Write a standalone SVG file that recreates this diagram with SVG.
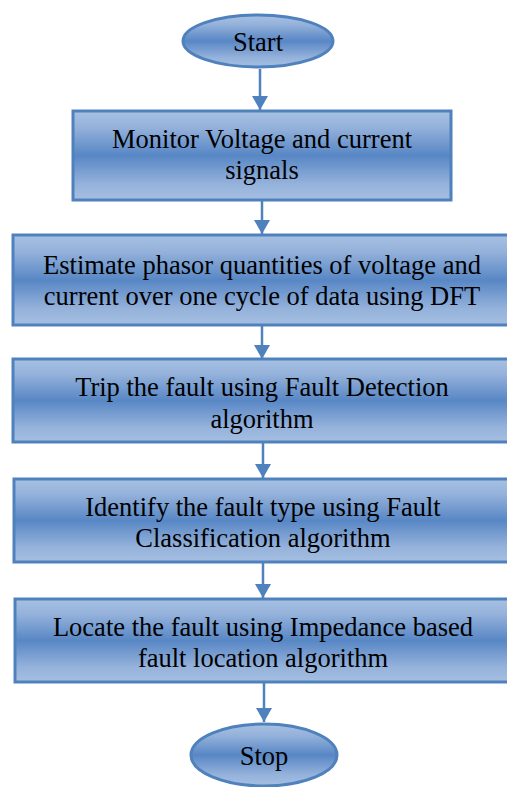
<svg xmlns="http://www.w3.org/2000/svg" width="507" height="787" viewBox="0 0 507 787">
<defs>
<linearGradient id="g" x1="0" y1="0" x2="0" y2="1">
<stop offset="0" stop-color="#a8c1e3"/>
<stop offset="0.18" stop-color="#95b2db"/>
<stop offset="0.5" stop-color="#5887c5"/>
<stop offset="0.82" stop-color="#95b2db"/>
<stop offset="1" stop-color="#a5bfe1"/>
</linearGradient>
<marker id="ah" viewBox="0 0 14 16" refX="14" refY="8" markerWidth="14" markerHeight="16" markerUnits="userSpaceOnUse" orient="auto">
<path d="M0,0 L14,8 L0,16 z" fill="#4f81bd"/>
</marker>
</defs>
<style>
.n{fill:url(#g);stroke:#4f81bd;stroke-width:3}
.t{font-family:"Liberation Serif","Times New Roman",serif;font-size:26.5px;fill:#000;text-anchor:middle}
.c{stroke:#4f81bd;stroke-width:2.5;fill:none;marker-end:url(#ah)}
</style>
<rect width="507" height="787" fill="#fff"/>
<g id="connectors">
<line class="c" x1="260" y1="69" x2="260" y2="110"/>
<line class="c" x1="262" y1="201" x2="262" y2="234"/>
<line class="c" x1="262" y1="326" x2="262" y2="359"/>
<line class="c" x1="263" y1="443" x2="263" y2="478"/>
<line class="c" x1="263" y1="563" x2="263" y2="598"/>
<line class="c" x1="264" y1="683" x2="264" y2="722"/>
</g>
<g id="start">
<ellipse class="n" cx="258" cy="41" rx="75" ry="26"/>
<text class="t" x="258" y="51">Start</text>
</g>
<g id="monitor">
<rect class="n" x="73" y="111" width="378" height="89"/>
<text class="t" x="262" y="148">Monitor Voltage and current</text>
<text class="t" x="262" y="179">signals</text>
</g>
<g id="estimate">
<rect class="n" x="13" y="235" width="498" height="90"/>
<text class="t" x="262" y="274">Estimate phasor quantities of voltage and</text>
<text class="t" x="262" y="305">current over one cycle of data using DFT</text>
</g>
<g id="trip">
<rect class="n" x="13" y="359" width="498" height="83"/>
<text class="t" x="262" y="396">Trip the fault using Fault Detection</text>
<text class="t" x="262" y="428">algorithm</text>
</g>
<g id="identify">
<rect class="n" x="14" y="479" width="497" height="83"/>
<text class="t" x="263" y="516">Identify the fault type using Fault</text>
<text class="t" x="263" y="547">Classification algorithm</text>
</g>
<g id="locate">
<rect class="n" x="15" y="599" width="496" height="83"/>
<text class="t" x="263" y="636">Locate the fault using Impedance based</text>
<text class="t" x="263" y="667">fault location algorithm</text>
</g>
<g id="stop">
<ellipse class="n" cx="264" cy="755" rx="73" ry="31"/>
<text class="t" x="264" y="765">Stop</text>
</g>
</svg>
